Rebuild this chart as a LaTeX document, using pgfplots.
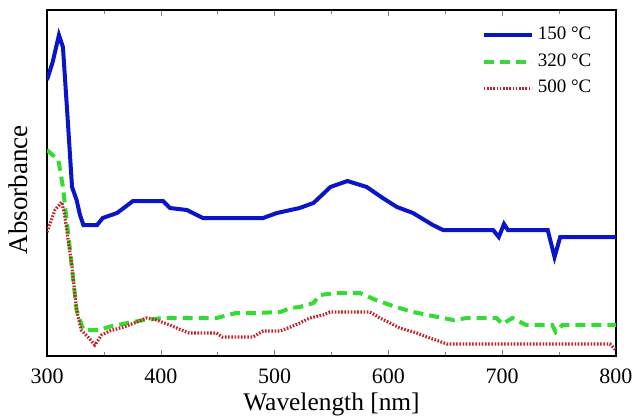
\documentclass[border=0pt]{standalone}
\usepackage{fontspec}
\setmainfont{Liberation Serif}
\usepackage{pgfplots}
\usepackage{pgfplotstable}
\pgfplotsset{compat=1.18}
\definecolor{cblue}{RGB}{10,20,200}
\definecolor{cgreen}{RGB}{50,220,50}
\definecolor{cred}{RGB}{195,35,40}

\pgfplotstableread{
x y
300 276
305 294
310.5 321
314 309
318 240
322 169
326 156
329 141
332 131
344 131
349 138
361.5 143
375.6 155
402 155
408 148
423 146
437 138
490 138
502 143
522 148
534 153
537 156
549 169
564 175
581 169
595 158
607.5 149
621.6 143
639 131
648 126
692 126
697 119
701.6 132
705 126
740 126
746 99
751 119
800 119
}\blue

\pgfplotstableread{
x y
300 206
305 201
310 196
314 169
320 108
326 46
332 26
346 26
357 30
385 36
402 38
449 38
466 43
484 43
505 44
514 48
522 49
534 53
540 61
554 63
575 63
589 56
604 50
621.6 44
639 40
657 36
669 38
695 38
700 32
709 38
721 31
744 31
747 24
753 31
800 31
}\green

\pgfplotstableread{
x y
300 124
307 146
313 154
315.5 141
322 89
326 46
330 26
336 19
342 11
348 21
355 25
370 30
387.5 38
396 36
408 31
418 26
425 23
449 23
454 19
481 19
490 25
505 25
514 29
522 33
531 38
542.5 41
548.7 44
583.8 44
592.6 38
601.4 33
610 28
625 23
634 19
651.5 12
794.7 12
800 6
}\red

\begin{document}
\begin{tikzpicture}
\begin{axis}[
  scale only axis, width=284.5pt, height=173pt,
  xmin=300, xmax=800, ymin=0, ymax=346,
  xtick={300,400,...,800}, minor xtick={350,450,...,750},
  ytick=\empty,
  tick align=inside, major tick length=3pt, minor tick length=2pt,
  /pgf/number format/assume math mode=true,
  /pgf/number format/set thousands separator={},
  ticklabel style={font=\fontsize{11}{13}\selectfont},
  xticklabel style={anchor=base, yshift=-13.5pt},
  xlabel={Wavelength [nm]}, ylabel={Absorbance},
  xlabel style={font=\fontsize{12.7}{14}\selectfont, at={(axis description cs:0.5,0)}, anchor=base, yshift=-27pt},
  ylabel style={font=\fontsize{13.5}{15}\selectfont, at={(axis description cs:-0.051,0.48)}, anchor=center},
  axis line style={line width=0.8pt},
  legend style={draw=none, fill=none, at={(rel axis cs:0.975,0.975)}, anchor=north east,
    font=\fontsize{9.5}{11}\selectfont, row sep=1.5pt},
  legend cell align=left,
  legend image code/.code={\draw[#1] (0pt,0pt) -- (24pt,0pt);},
]
\addplot[cblue, line width=2pt] table {\blue};
\addlegendentry{150 °C}
\addplot[cgreen, line width=2pt, dash pattern=on 5pt off 3pt] table {\green};
\addlegendentry{320 °C}
\addplot[cred, line width=1.6pt, dash pattern=on 0.8pt off 0.8pt] table {\red};
\addlegendentry{500 °C}
\end{axis}
\pgfresetboundingbox
\path[use as bounding box] ([xshift=-23.5pt,yshift=-29.5pt]current axis.south west) rectangle ([xshift=9.5pt,yshift=5pt]current axis.north east);
\end{tikzpicture}
\end{document}
